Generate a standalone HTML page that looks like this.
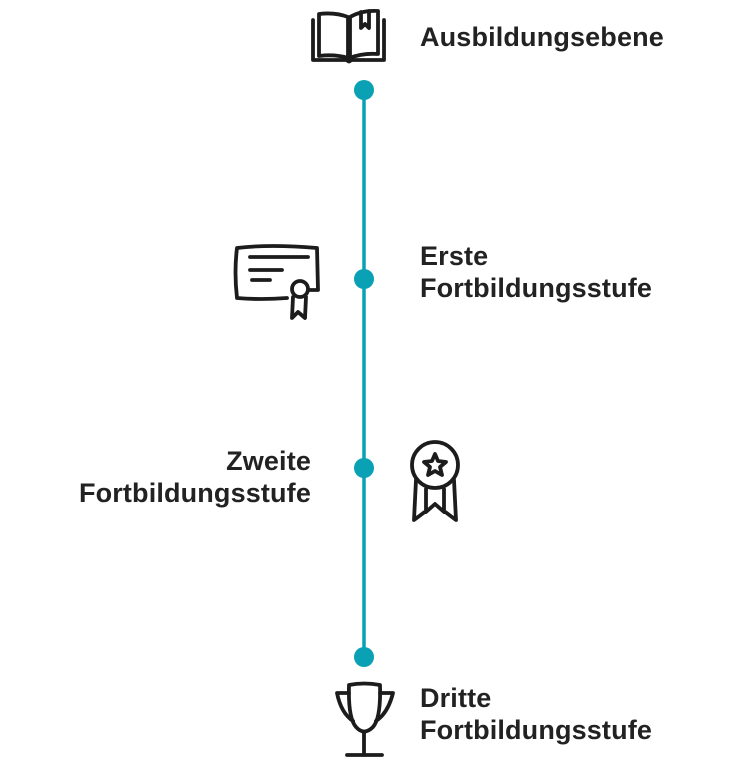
<!DOCTYPE html>
<html><head><meta charset="utf-8"><style>
html,body{margin:0;padding:0;background:#fff;width:750px;height:767px;overflow:hidden;position:relative}
.t{position:absolute;font-family:"Liberation Sans",Arial,sans-serif;font-weight:bold;font-size:27px;line-height:32px;color:#222;white-space:nowrap;letter-spacing:0.15px}
svg{position:absolute;left:0;top:0}
</style></head><body>
<svg width="750" height="767" viewBox="0 0 750 767">
<g fill="none" stroke="#1c1c1c" stroke-width="3.8" stroke-linecap="round" stroke-linejoin="round">
<!-- book -->
<path d="M313 20 L313 60 L347 60 Q349 63 351 60 L384 60 L384 20"/>
<path d="M319 14 L319 56 Q335 54 348 58 L348 17 Q335 12 319 14 Z"/>
<path d="M378 11 L378 54 Q362 53 350 58 L350 17 Q362 10 378 11 Z"/>
<path d="M361 12 L361 28 L365 24 L369 28 L369 11"/>
<!-- certificate -->
<path d="M310 290 L318 290 L317 248 Q270 244 237 248 Q234 272 237 298 Q260 300 287 298"/>
<path d="M250 257 L308 257 M250 270 L282 270 M252 280 L270 280"/>
<circle cx="300" cy="289" r="8"/>
<path d="M293 297 L292 318 L298 312 L305 318 L306 297"/>
<!-- medal -->
<circle cx="435" cy="465" r="23"/>
<path d="M435 454 L438 461 L446 462 L440 467 L442 475 L435 471 L428 475 L430 467 L424 462 L432 461 Z"/>
<path d="M416 480 L414 520 L426 511 L426 489 M454 480 L456 520 L444 511 L444 489 M426 512 L435 504 L444 512"/>
<!-- trophy -->
<path d="M349 685 Q364 682 380 685 Q381 718 373 727 Q364 736 356 727 Q348 718 349 685 Z"/>
<path d="M349 693 L337 693 Q341 713 353 721 M380 693 L393 693 Q388 713 376 721"/>
<path d="M364 733 L364 754 M347 755 L382 755"/>
</g>
<line x1="364" y1="90" x2="364" y2="657" stroke="#0aa1b5" stroke-width="3.5"/>
<g fill="#0aa1b5">
<circle cx="364" cy="90" r="10"/><circle cx="364" cy="279" r="10"/>
<circle cx="364" cy="468" r="10"/><circle cx="364" cy="657" r="10"/>
</g>
</svg>
<div class="t" style="left:420px;top:21px">Ausbildungsebene</div>
<div class="t" style="left:420px;top:240px">Erste<br>Fortbildungsstufe</div>
<div class="t" style="right:439px;top:445px;text-align:right">Zweite<br>Fortbildungsstufe</div>
<div class="t" style="left:420px;top:682px">Dritte<br>Fortbildungsstufe</div>
</body></html>
